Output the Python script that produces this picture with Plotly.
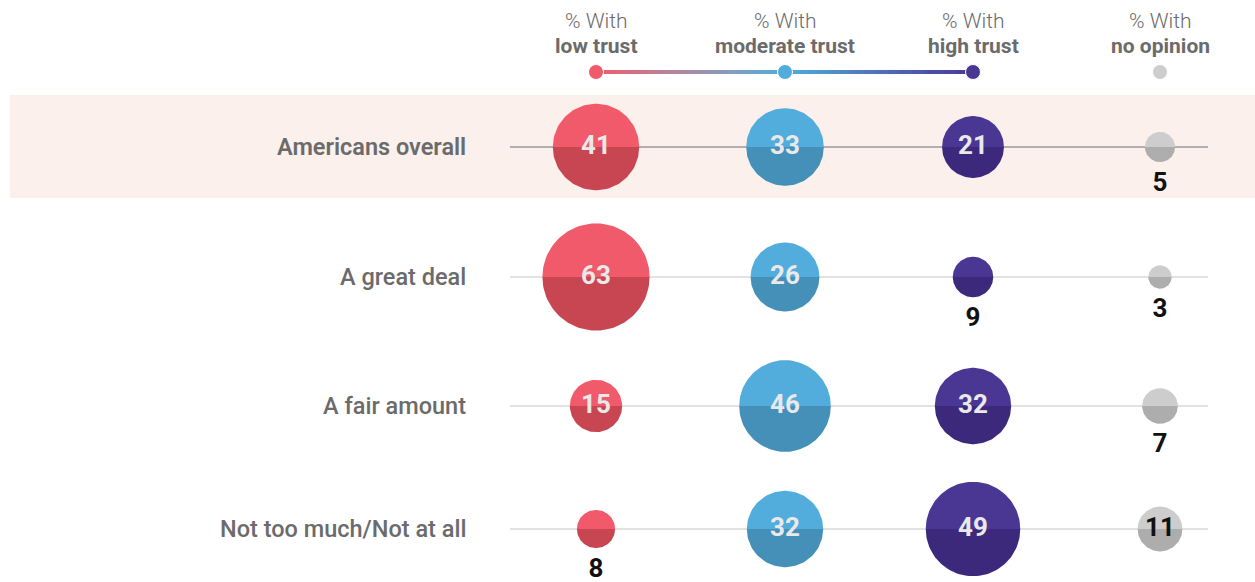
import numpy as np
import plotly.graph_objects as go

# ---------------- data ----------------
rows = ["Americans overall", "A great deal", "A fair amount", "Not too much/Not at all"]
series_names = ["low trust", "moderate trust", "high trust", "no opinion"]
low_trust = [41, 63, 15, 8]
moderate_trust = [33, 26, 46, 32]
high_trust = [21, 9, 32, 49]
no_opinion = [5, 3, 7, 11]

# ---------------- layout / styles ----------------
W, H = 1255, 582
col_x = [596, 785, 973, 1160]
row_y = [147, 277, 406, 529]
K = 6.75  # radius (px) per sqrt(percent)
top_colors = ["#f05a6a", "#52acdc", "#4a3794", "#cdcdcd"]
bot_colors = ["#c84652", "#4490b9", "#3c297b", "#adadad"]
in_text_colors = ["#e9e9e9", "#e9e9e9", "#e9e9e9", "#111111"]
FONT = "Roboto, Lato, sans-serif"
GRAY = "#6b6b6b"

series = [low_trust, moderate_trust, high_trust, no_opinion]

fig = go.Figure()
shapes = []
annotations = []

# highlight band for first row
shapes.append(dict(type="rect", xref="x", yref="y", x0=10, x1=W, y0=95, y1=198,
                   fillcolor="#fcf0ec", line=dict(width=0), layer="below"))
# row lines
for i, y in enumerate(row_y):
    shapes.append(dict(type="line", xref="x", yref="y", x0=510, x1=1208, y0=y, y1=y,
                       line=dict(color="#9a9a9a" if i == 0 else "#d9d9d9", width=1.3),
                       layer="below"))

# gradient connector in header legend
def hex2rgb(h):
    h = h.lstrip("#")
    return np.array([int(h[i:i + 2], 16) for i in (0, 2, 4)], dtype=float)

legend_y = 72
N = 40
for a, b in [(0, 1), (1, 2)]:
    c0, c1 = hex2rgb(top_colors[a]), hex2rgb(top_colors[b])
    xs = np.linspace(col_x[a], col_x[b], N + 1)
    for j in range(N):
        t = (j + 0.5) / N
        c = c0 * (1 - t) + c1 * t
        if a == 0:
            mid = np.array([170, 150, 175])
            c = (1 - t) ** 2 * c0 + 2 * t * (1 - t) * mid + t ** 2 * c1
        shapes.append(dict(type="line", xref="x", yref="y", x0=xs[j], x1=xs[j + 1] + 0.6,
                           y0=legend_y, y1=legend_y,
                           line=dict(color="rgb(%d,%d,%d)" % tuple(c), width=4), layer="below"))

fig.add_trace(go.Scatter(x=col_x, y=[legend_y] * 4, mode="markers",
                         marker=dict(size=15, color=top_colors, line=dict(color="white", width=1)),
                         hoverinfo="skip", showlegend=False))

# header labels
for cx, name in zip(col_x, series_names):
    annotations.append(dict(x=cx, y=21, xref="x", yref="y", text="% With", showarrow=False,
                            font=dict(family=FONT, size=21, color=GRAY, weight=300),
                            xanchor="center", yanchor="middle"))
    annotations.append(dict(x=cx, y=46, xref="x", yref="y", text="<b>%s</b>" % name, showarrow=False,
                            font=dict(family=FONT, size=21, color=GRAY), xanchor="center", yanchor="middle"))

# row labels
for i, (lab, y) in enumerate(zip(rows, row_y)):
    annotations.append(dict(x=468, y=y, xref="x", yref="y", text=lab, showarrow=False,
                            font=dict(family=FONT, size=23.5, color=GRAY, weight=600 if i == 0 else 500),
                            xanchor="right", yanchor="middle"))

# bubbles: two half-discs per value (lighter top, darker bottom)
theta_top = np.linspace(np.pi, 2 * np.pi, 60)
theta_bot = np.linspace(0, np.pi, 60)
for s, vals in enumerate(series):
    cx = col_x[s]
    for r_i, v in enumerate(vals):
        cy = row_y[r_i]
        r = K * np.sqrt(v)
        for th, col in [(theta_top, top_colors[s]), (theta_bot, bot_colors[s])]:
            px = cx + r * np.cos(th)
            py = cy + r * np.sin(th)
            fig.add_trace(go.Scatter(x=np.append(px, px[0]), y=np.append(py, py[0]),
                                     mode="lines", fill="toself", fillcolor=col,
                                     line=dict(width=0, color=col), hoverinfo="skip",
                                     showlegend=False))

# value labels
for s, vals in enumerate(series):
    xs_in, ys_in, t_in, xs_out, ys_out, t_out = [], [], [], [], [], []
    for r_i, v in enumerate(vals):
        r = K * np.sqrt(v)
        if v >= 10:
            xs_in.append(col_x[s]); ys_in.append(row_y[r_i]); t_in.append("<b>%d</b>" % v)
        else:
            xs_out.append(col_x[s]); ys_out.append(row_y[r_i] + r + 22); t_out.append("<b>%d</b>" % v)
    fig.add_trace(go.Scatter(x=xs_in, y=ys_in, mode="text", text=t_in, textposition="middle center",
                             textfont=dict(family=FONT, size=26, color=in_text_colors[s]),
                             hoverinfo="skip", showlegend=False))
    fig.add_trace(go.Scatter(x=xs_out, y=ys_out, mode="text", text=t_out, textposition="middle center",
                             textfont=dict(family=FONT, size=26, color="#111111"),
                             hoverinfo="skip", showlegend=False))

fig.update_layout(
    width=W, height=H,
    margin=dict(l=0, r=0, t=0, b=0),
    paper_bgcolor="white", plot_bgcolor="white",
    xaxis=dict(range=[0, W], visible=False, fixedrange=True),
    yaxis=dict(range=[H, 0], visible=False, fixedrange=True),
    shapes=shapes, annotations=annotations,
    showlegend=False,
)

fig.write_html("out.html", config={"displayModeBar": False},
               post_script="document.body.style.margin='0';")
